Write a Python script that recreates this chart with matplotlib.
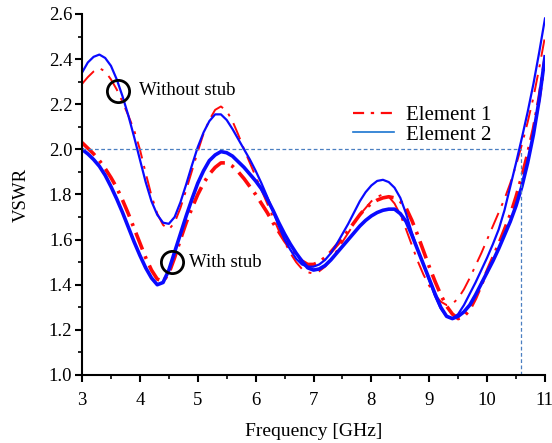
import numpy as np
import matplotlib
matplotlib.use("Agg")
import matplotlib.pyplot as plt
import matplotlib.transforms as mtransforms
from matplotlib.ticker import MultipleLocator

plt.rcParams["font.family"] = ["Liberation Serif", "DejaVu Serif"]

# частота, GHz (крок 0.1)
freq = np.round(np.arange(3.0, 11.0001, 0.1), 1)

# Element 1 (червоний), зі шлейфом / без шлейфу
e1_stub = [2.03, 2.005, 1.98, 1.95, 1.915, 1.875, 1.83, 1.775, 1.715, 1.65,
           1.585, 1.52, 1.465, 1.425, 1.415, 1.45, 1.52, 1.60, 1.675, 1.74,
           1.80, 1.85, 1.89, 1.92, 1.94, 1.94, 1.925, 1.90, 1.87, 1.835,
           1.80, 1.76, 1.72, 1.675, 1.635, 1.595, 1.56, 1.53, 1.505, 1.49,
           1.49, 1.50, 1.52, 1.545, 1.575, 1.605, 1.64, 1.675, 1.71, 1.74,
           1.76, 1.775, 1.785, 1.79, 1.785, 1.77, 1.74, 1.685, 1.62, 1.55,
           1.48, 1.415, 1.355, 1.305, 1.27, 1.25, 1.26, 1.29, 1.34, 1.40,
           1.46, 1.52, 1.58, 1.645, 1.71, 1.79, 1.88, 1.98, 2.09, 2.23,
           2.40]
e1_nostub = [2.29, 2.32, 2.345, 2.36, 2.345, 2.31, 2.265, 2.21, 2.15, 2.085,
             2.00, 1.895, 1.795, 1.715, 1.665, 1.645, 1.675, 1.74, 1.82, 1.905,
             1.99, 2.07, 2.13, 2.175, 2.19, 2.17, 2.125, 2.065, 2.00, 1.94,
             1.88, 1.82, 1.76, 1.70, 1.64, 1.59, 1.54, 1.50, 1.47, 1.455,
             1.45, 1.46, 1.48, 1.51, 1.55, 1.59, 1.63, 1.67, 1.71, 1.74,
             1.77, 1.79, 1.80, 1.79, 1.76, 1.71, 1.645, 1.575, 1.505, 1.445,
             1.395, 1.355, 1.325, 1.31, 1.315, 1.34, 1.38, 1.43, 1.485, 1.54,
             1.60, 1.66, 1.72, 1.78, 1.85, 1.93, 2.02, 2.12, 2.23, 2.36,
             2.50]

# Element 2 (синій), зі шлейфом / без шлейфу
e2_stub = [2.00, 1.98, 1.955, 1.925, 1.885, 1.835, 1.78, 1.72, 1.655, 1.59,
           1.53, 1.475, 1.43, 1.40, 1.41, 1.465, 1.545, 1.625, 1.705, 1.78,
           1.85, 1.905, 1.95, 1.975, 1.99, 1.985, 1.97, 1.945, 1.92, 1.89,
           1.86, 1.825, 1.78, 1.73, 1.675, 1.625, 1.58, 1.54, 1.505, 1.475,
           1.465, 1.47, 1.485, 1.51, 1.54, 1.57, 1.60, 1.63, 1.66, 1.685,
           1.705, 1.72, 1.73, 1.735, 1.735, 1.715, 1.68, 1.62, 1.555, 1.49,
           1.425, 1.36, 1.30, 1.26, 1.25, 1.26, 1.28, 1.31, 1.355, 1.405,
           1.455, 1.505, 1.56, 1.62, 1.68, 1.75, 1.835, 1.94, 2.065, 2.22,
           2.41]
e2_nostub = [2.34, 2.385, 2.41, 2.42, 2.405, 2.37, 2.31, 2.235, 2.15, 2.055,
             1.955, 1.855, 1.77, 1.71, 1.675, 1.67, 1.70, 1.765, 1.845, 1.93,
             2.01, 2.075, 2.125, 2.155, 2.155, 2.13, 2.09, 2.045, 2.00, 1.955,
             1.905, 1.85, 1.79, 1.725, 1.66, 1.60, 1.555, 1.515, 1.49, 1.48,
             1.48, 1.49, 1.51, 1.54, 1.58, 1.625, 1.67, 1.72, 1.77, 1.81,
             1.84, 1.86, 1.865, 1.855, 1.83, 1.785, 1.715, 1.63, 1.555, 1.49,
             1.42, 1.35, 1.295, 1.26, 1.25, 1.27, 1.31, 1.36, 1.41, 1.465,
             1.52, 1.58, 1.645, 1.73, 1.835, 1.94, 2.05, 2.165, 2.29, 2.43,
             2.58]

f_cut = 10.59  # межа VSWR = 2
x_ticks = [3, 4, 5, 6, 7, 8, 9, 10, 11]
x_labels = ["3", "4", "5", "6", "7", "8", "9", "10", "11"]

fig = plt.figure(figsize=(5.52, 4.43), dpi=100)
ax = fig.add_axes([0.1486, 0.1535, 0.8387, 0.815])

red = "#ff0a0a"
blue = "#0a0aff"

ax.plot(freq, e1_nostub, color=red, lw=1.4, linestyle=(0, (9, 4, 1.5, 4)))
ax.plot(freq, e1_stub, color=red, lw=2.6, linestyle=(0, (5, 2, 0.8, 2)))
ax.plot(freq, e2_nostub, color=blue, lw=1.6)
ax.plot(freq, e2_stub, color=blue, lw=2.6)

# допоміжні пунктирні лінії
ax.plot([3, f_cut], [2.0, 2.0], color="#4a7fc1", lw=0.9, linestyle=(0, (3, 2)))
ax.plot([f_cut, f_cut], [1.0, 2.0], color="#4a7fc1", lw=0.9, linestyle=(0, (3, 2)))

# кружки-позначки
ax.plot([3.62], [2.26], marker="o", ms=16, mfc="none", mec="black", mew=2)
ax.text(3.98, 2.26, "Without stub", fontsize=13.5, va="center")
ax.plot([4.55], [1.50], marker="o", ms=16, mfc="none", mec="black", mew=2)
ax.text(4.84, 1.50, "With stub", fontsize=13.5, va="center")

# легенда
h1, = ax.plot([], [], color=red, lw=1.6, linestyle=(0, (5, 3, 1.5, 3)))
h2, = ax.plot([], [], color="#1a74d0", lw=1.2)
ax.legend([h1, h2], ["Element 1", "Element 2"], loc="upper left",
          bbox_to_anchor=(0.562, 0.775), frameon=False, fontsize=15,
          handlelength=2.0, labelspacing=0.0, borderpad=0, handletextpad=0.55)

ax.set_xlim(3, 11)
ax.set_ylim(1.0, 2.6)
ax.set_xticks(x_ticks)
ax.set_xticklabels(x_labels)
ax.xaxis.set_minor_locator(MultipleLocator(0.5))
ax.yaxis.set_major_locator(MultipleLocator(0.2))
ax.yaxis.set_minor_locator(MultipleLocator(0.1))
ax.yaxis.set_major_formatter(plt.FormatStrFormatter("%.1f"))
ax.tick_params(which="major", direction="out", length=5, width=1.5,
               labelsize=13.5, pad=2)
ax.tick_params(axis="x", which="major", pad=7.5)
ax.tick_params(which="minor", direction="out", length=3, width=1.2)
ax.spines["top"].set_visible(False)
ax.spines["right"].set_visible(False)
ax.spines["left"].set_linewidth(1.5)
ax.spines["bottom"].set_linewidth(1.5)

ax.set_xlabel("Frequency [GHz]", fontsize=14, labelpad=9.5)
ax.set_ylabel("VSWR", fontsize=13.5, labelpad=14)

# підпис "11" трохи лівіше, щоб не обрізався краєм
last = ax.get_xticklabels()[-1]
last.set_horizontalalignment("right")
last.set_transform(last.get_transform() +
                   mtransforms.ScaledTranslation(6 / 72, 0, fig.dpi_scale_trans))

fig.savefig("out.png", dpi=100)
